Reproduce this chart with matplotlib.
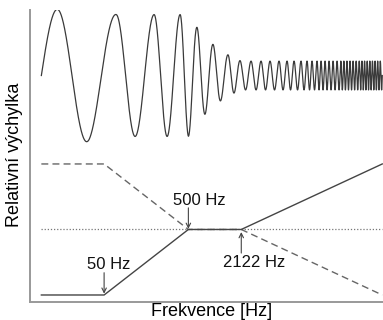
import numpy as np
import matplotlib
matplotlib.use("Agg")
import matplotlib.pyplot as plt

plt.rcParams.update({
    "font.family": ["Liberation Sans", "DejaVu Sans"],
    "font.size": 12,
})

# response curves (frequency in Hz, relative level)
freq = [9, 50, 500, 2122, 1e5]
solid_level = [0, 0, 1, 1, 2]
dashed_level = [2, 2, 1, 1, 0]
ref_level = 1

# marked corner frequencies: (label, freq, arrow tip, arrow tail, text x, text y)
marks = [
    ("50 Hz", 50, 0.02, 0.34, 56, 0.46),
    ("500 Hz", 500, 1.01, 1.33, 680, 1.44),
    ("2122 Hz", 2122, 0.96, 0.64, 3030, 0.50),
]

crest_freq = [9, 13.9, 69.4, 196, 399, 634, 982, 1479, 2053, 2772, 3643, 4655,
              5955, 7410, 8975, 10860, 12800, 14670, 16820, 31530, 54400, 1e5]
crest_cycle = [0, 0.25, 1.25, 2.25, 3.25, 4.25, 5.25, 6.25, 7.25, 8.25, 9.25, 10.25,
               11.25, 12.25, 13.25, 14.25, 15.25, 16.25, 17.25, 23.0, 29.5, 38.0]
env_freq = [9, 33, 70, 500, 2122, 1e5]
env_amp = [1.01, 1.01, 0.93, 0.93, 0.22, 0.22]
wave_center = 3.35

fig = plt.figure(figsize=(3.83, 3.2), dpi=100)
ax = fig.add_axes([30 / 383, 18 / 320, 353 / 383, 292 / 320])
ax.set_xscale("log")
ax.set_xlim(6.6, 1.02e5)
ax.set_ylim(-0.107, 4.35)

# chirp
f = np.logspace(np.log10(freq[0]), np.log10(freq[-1]), 8000)
phase = np.interp(np.log10(f), np.log10(crest_freq), crest_cycle)
amp = 10 ** np.interp(np.log10(f), np.log10(env_freq), np.log10(env_amp))
ax.plot(f, wave_center + amp * np.sin(2 * np.pi * phase), color="#3a3a3a", lw=0.9)

ax.axhline(ref_level, xmin=0.03, xmax=0.997, color="#777777", lw=0.9,
           linestyle=(0, (1, 1.5)))
ax.plot(freq, dashed_level, color="#666666", lw=1.0, linestyle=(0, (5, 3)))
ax.plot(freq, solid_level, color="#444444", lw=1.0)

for label, fx, tip, tail, tx, ty in marks:
    ax.annotate("", xy=(fx, tip), xytext=(fx, tail),
                arrowprops=dict(arrowstyle="->", color="#444444", lw=0.8,
                                shrinkA=0, shrinkB=0, mutation_scale=8))
    ax.text(tx, ty, label, ha="center", va="center", color="#111111")

for side in ["top", "right"]:
    ax.spines[side].set_visible(False)
for side in ["left", "bottom"]:
    ax.spines[side].set_color("#999999")
    ax.spines[side].set_linewidth(1.4)
ax.set_xticks([])
ax.set_yticks([])
ax.minorticks_off()

fig.text(212 / 383, 1 - 312 / 320, "Frekvence [Hz]", ha="center", va="center",
         fontsize=13)
fig.text(15 / 383, 1 - 155 / 320, "Relativní výchylka", ha="center", va="center",
         rotation=90, fontsize=13)

fig.savefig("out.png", dpi=100)
